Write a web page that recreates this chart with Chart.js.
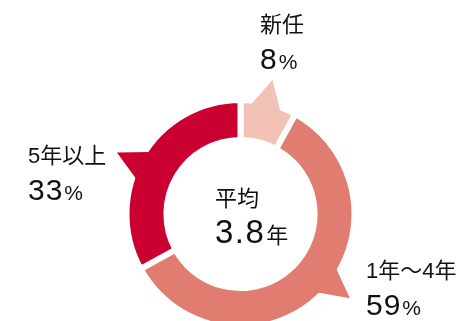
<!DOCTYPE html>
<html lang="ja">
<head>
<meta charset="utf-8">
<title>勤続年数</title>
<script src="https://cdn.jsdelivr.net/npm/chart.js@4.4.1/dist/chart.umd.min.js"></script>
<style>
  html, body { margin: 0; padding: 0; background: #fff; overflow: hidden; }
  canvas { display: block; }
</style>
</head>
<body>
<canvas id="tenureChart" width="461" height="321"></canvas>
<script>
const categories = ['新任', '1年〜4年', '5年以上'];
const shares = [8, 59, 33];
const sliceColors = ['#F2C2B6', '#E07D70', '#CC0030'];
const averageLabel = '平均';
const averageYears = 3.8;
const yearUnit = '年';

// label blocks, measured from the ring centre: left edge and baseline of the number line
const labelOffsets = [
  { dx: 19.5, dy: -144.7 },
  { dx: 125.5, dy: 101 },
  { dx: -212.5, dy: -14 }
];
const centreOffset = { dx: -25.5, dy: 29.3 };

const FONT = '"Liberation Sans", "Noto Sans CJK JP", sans-serif';

function drawBlock(ctx, x, y, title, num, unit, numSize, spacing, unitFont) {
  ctx.letterSpacing = '0px';
  ctx.font = `22px ${FONT}`;
  ctx.fillText(title, x, y - 37.5);
  ctx.letterSpacing = spacing + 'px';
  ctx.font = `${numSize}px ${FONT}`;
  ctx.fillText(num, x, y);
  const w = ctx.measureText(num).width;
  ctx.letterSpacing = '0px';
  ctx.font = unitFont;
  ctx.fillText(unit, x + w + 1, y);
}

// little pointer on the outer edge of every slice
const tailPlugin = {
  id: 'sliceTails',
  afterDatasetsDraw(chart) {
    const ctx = chart.ctx;
    const half = 8.3 * Math.PI / 180;
    chart.getDatasetMeta(0).data.forEach((arc, i) => {
      const { x, y, startAngle, endAngle, outerRadius } = arc;
      const a = startAngle + (endAngle - startAngle) * 0.465;
      const rBase = outerRadius - 5;
      const rTip = outerRadius + 24;
      ctx.save();
      ctx.fillStyle = sliceColors[i];
      ctx.beginPath();
      ctx.moveTo(x + rBase * Math.cos(a - half), y + rBase * Math.sin(a - half));
      ctx.lineTo(x + rTip * Math.cos(a), y + rTip * Math.sin(a));
      ctx.lineTo(x + rBase * Math.cos(a + half), y + rBase * Math.sin(a + half));
      ctx.closePath();
      ctx.fill();
      ctx.restore();
    });
  }
};

const labelPlugin = {
  id: 'sliceLabels',
  afterDraw(chart) {
    const ctx = chart.ctx;
    const first = chart.getDatasetMeta(0).data[0];
    const cx = first.x, cy = first.y;
    ctx.save();
    ctx.fillStyle = '#111';
    ctx.textAlign = 'left';
    ctx.textBaseline = 'alphabetic';
    categories.forEach((name, i) => {
      drawBlock(ctx, cx + labelOffsets[i].dx, cy + labelOffsets[i].dy,
        name, String(shares[i]), '%', 30, 1, `21px ${FONT}`);
    });
    drawBlock(ctx, cx + centreOffset.dx, cy + centreOffset.dy,
      averageLabel, averageYears.toFixed(1), yearUnit, 33, 1.5, `22px ${FONT}`);
    ctx.restore();
  }
};

new Chart(document.getElementById('tenureChart'), {
  type: 'doughnut',
  data: {
    labels: categories,
    datasets: [{
      data: shares,
      backgroundColor: sliceColors,
      borderColor: '#fff',
      borderWidth: 6,
      clip: false
    }]
  },
  options: {
    responsive: false,
    devicePixelRatio: 1,
    animation: false,
    events: [],
    radius: 114,
    cutout: '65%',
    layout: { padding: { left: 20, right: 0, top: 107, bottom: 0 } },
    plugins: {
      legend: { display: false },
      tooltip: { enabled: false }
    }
  },
  plugins: [tailPlugin, labelPlugin]
});
</script>
</body>
</html>
